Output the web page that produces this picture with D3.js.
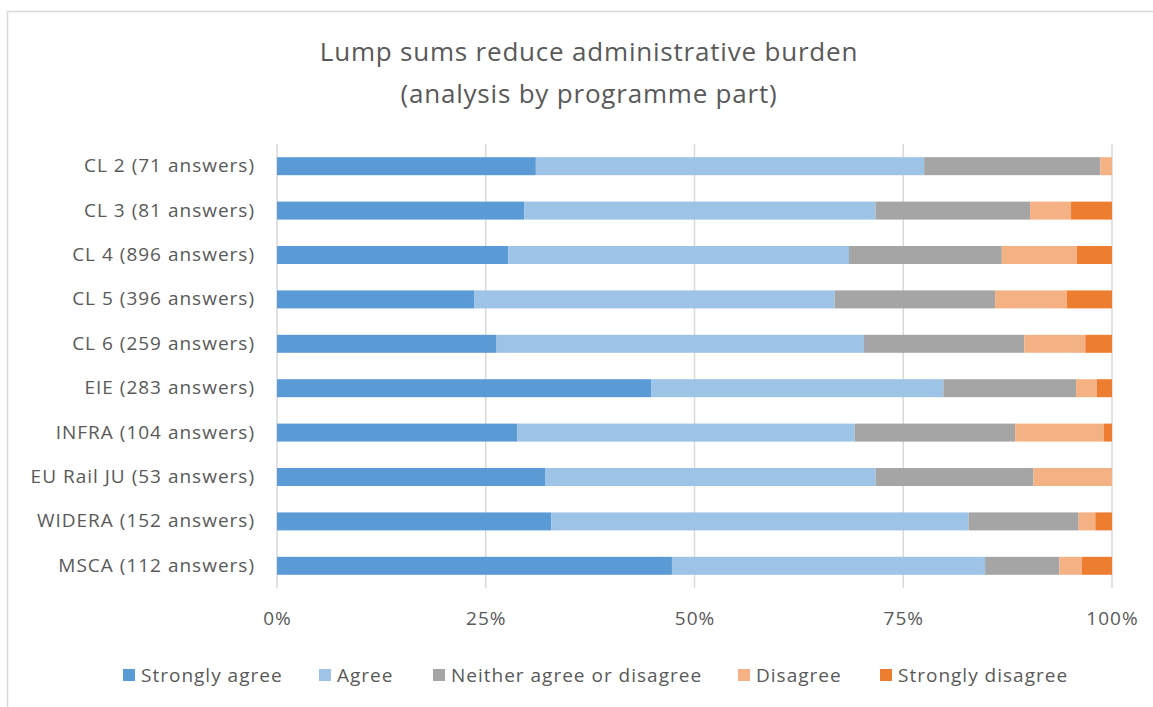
<!DOCTYPE html>
<html lang="en">
<head>
<meta charset="UTF-8">
<title>Lump sums</title>
<style>
  body { margin: 0; background: #fff; }
  text { font-family: "Open Sans", sans-serif; fill: #595959; letter-spacing: 1px; }
</style>
</head>
<body>
<svg width="1153" height="707"></svg>
<script src="https://d3js.org/d3.v7.min.js"></script>
<script>
// programme parts, top to bottom
var categories = ["CL 2 (71 answers)", "CL 3 (81 answers)", "CL 4 (896 answers)", "CL 5 (396 answers)",
  "CL 6 (259 answers)", "EIE (283 answers)", "INFRA (104 answers)", "EU Rail JU (53 answers)",
  "WIDERA (152 answers)", "MSCA (112 answers)"];

var seriesNames = ["Strongly agree", "Agree", "Neither agree or disagree", "Disagree", "Strongly disagree"];

// share of answers (%), one value per category
var stronglyAgree    = [31.0, 29.6, 27.7, 23.6, 26.3, 44.8, 28.8, 32.1, 32.9, 47.3];
var agree            = [46.5, 42.0, 40.8, 43.2, 44.0, 35.0, 40.4, 39.6, 50.0, 37.5];
var neither          = [21.1, 18.5, 18.3, 19.2, 19.2, 15.9, 19.2, 18.9, 13.2, 8.9];
var disagree         = [1.4, 4.9, 9.0, 8.6, 7.3, 2.5, 10.6, 9.4, 2.0, 2.7];
var stronglyDisagree = [0, 4.9, 4.2, 5.4, 3.2, 1.8, 1.0, 0, 2.0, 3.6];

var tickLabels = ["0%", "25%", "50%", "75%", "100%"];
var colors = ["#5B9BD5", "#9DC3E6", "#A5A5A5", "#F4B183", "#ED7D31"];

var svg = d3.select("svg");

// chart border (only top and left visible in the picture)
svg.append("rect")
  .attr("x", 7.5).attr("y", 11.5)
  .attr("width", 1200).attr("height", 800)
  .attr("fill", "none").attr("stroke", "#d9d9d9").attr("stroke-width", 1.5);

// title
var title = svg.append("text")
  .attr("text-anchor", "middle")
  .style("font-size", "26px")
  .style("letter-spacing", "0.8px");
title.append("tspan").attr("x", 589).attr("y", 61).text("Lump sums reduce administrative burden");
title.append("tspan").attr("x", 589).attr("y", 103).text("(analysis by programme part)");

var allSeries = [stronglyAgree, agree, neither, disagree, stronglyDisagree];
var rows = categories.map(function (c, i) {
  var r = { name: c };
  seriesNames.forEach(function (s, j) { r[s] = allSeries[j][i]; });
  return r;
});

var stack = d3.stack().keys(seriesNames).offset(d3.stackOffsetExpand);
var layers = stack(rows);

var x = d3.scaleLinear().domain([0, 1]).range([277, 1112]);
var y = d3.scaleBand().domain(categories).range([144, 588])
  .paddingInner(0.595).paddingOuter(0.2975);

// gridlines
svg.append("g")
  .selectAll("line")
  .data([0, 0.25, 0.5, 0.75, 1])
  .enter()
  .append("line")
  .attr("x1", function (d) { return x(d); })
  .attr("x2", function (d) { return x(d); })
  .attr("y1", 144).attr("y2", 588)
  .attr("stroke", "#d9d9d9").attr("stroke-width", 1.5);

// bars
svg.append("g")
  .selectAll("g")
  .data(layers)
  .enter()
  .append("g")
  .attr("fill", function (d, i) { return colors[i]; })
  .selectAll("rect")
  .data(function (d) { return d; })
  .enter()
  .append("rect")
  .attr("x", function (d) { return x(d[0]); })
  .attr("width", function (d) { return x(d[1]) - x(d[0]); })
  .attr("y", function (d) { return y(d.data.name); })
  .attr("height", y.bandwidth());

// x axis labels
var xAxis = d3.axisBottom(x)
  .tickValues([0, 0.25, 0.5, 0.75, 1])
  .tickFormat(function (d, i) { return tickLabels[i]; })
  .tickSize(0).tickPadding(0);
var xg = svg.append("g").attr("transform", "translate(0,611)").call(xAxis);
xg.select(".domain").remove();
xg.selectAll("text").attr("dy", "0.71em").style("font-size", "19px").style("font-family", null);

// y axis labels
var yAxis = d3.axisLeft(y).tickSize(0).tickPadding(0);
var yg = svg.append("g").attr("transform", "translate(255,0)").call(yAxis);
yg.select(".domain").remove();
yg.selectAll("text").style("font-size", "19px").style("font-family", null);

// legend
var legendX = [123, 319, 433, 738, 880];
var legend = svg.append("g")
  .selectAll("g")
  .data(seriesNames)
  .enter()
  .append("g")
  .attr("transform", function (d, i) { return "translate(" + legendX[i] + ",675)"; });
legend.append("rect")
  .attr("x", 0).attr("y", -6)
  .attr("width", 12).attr("height", 12)
  .attr("fill", function (d, i) { return colors[i]; });
legend.append("text")
  .attr("x", 18).attr("dy", "0.35em")
  .style("font-size", "19px")
  .text(function (d) { return d; });
</script>
</body>
</html>
